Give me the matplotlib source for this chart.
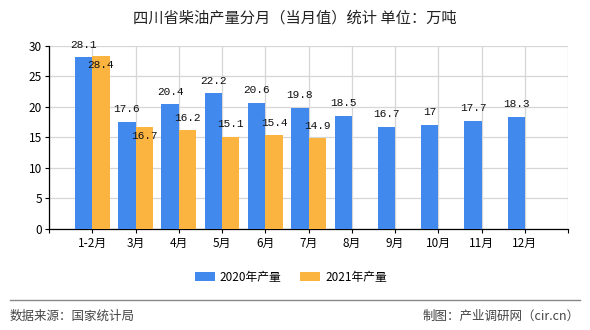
import numpy as np
import matplotlib.pyplot as plt
from matplotlib.lines import Line2D

plt.rcParams['font.family'] = ['Noto Sans CJK SC', 'DejaVu Sans']

months = ['1-2月', '3月', '4月', '5月', '6月', '7月', '8月', '9月', '10月', '11月', '12月']
prod_2020 = [28.1, 17.6, 20.4, 22.2, 20.6, 19.8, 18.5, 16.7, 17, 17.7, 18.3]
prod_2021 = [28.4, 16.7, 16.2, 15.1, 15.4, 14.9]

blue = '#4189ec'
orange = '#fbb440'

fig = plt.figure(figsize=(5.9, 3.3), dpi=100)
ax = fig.add_axes([0.083, 0.306, 0.88, 0.555])

x = np.arange(len(months))
w = 0.4
ax.bar(x - w / 2, prod_2020, width=w, color=blue, label='2020年产量', zorder=3)
x21 = x[:len(prod_2021)]
ax.bar(x21 + w / 2, prod_2021, width=w, color=orange, label='2021年产量', zorder=3)

num_font = dict(family='Liberation Mono', fontsize=8, color='#111111')
for xi, v in zip(x, prod_2020):
    ax.annotate('{:g}'.format(v), (xi - w / 2, v), xytext=(0, 9.3), textcoords='offset points',
                ha='center', va='center', zorder=5, **num_font)
for xi, v, b in zip(x21, prod_2021, prod_2020):
    # label collides with the 2020 one -> drop it under the bar top
    dy = -6.5 if abs(v - b) < 2 else 9
    ax.annotate('{:g}'.format(v), (xi + w / 2, v), xytext=(0, dy), textcoords='offset points',
                ha='center', va='center', zorder=5, **num_font)

ax.set_xlim(-1, len(months))
ax.set_ylim(0, 30)
ax.set_xticks(np.arange(-1, len(months) + 1))
ax.set_xticklabels([''] + months + [''], fontsize=8.5)
ax.set_yticks(np.arange(0, 31, 5))
ax.tick_params(axis='y', labelsize=8.5, length=3, pad=2)
ax.tick_params(axis='x', length=3, pad=3)
ax.grid(True, color='#d6d6d6', linewidth=0.9, zorder=0)
for s in ['top', 'right']:
    ax.spines[s].set_visible(False)
for s in ['left', 'bottom']:
    ax.spines[s].set_color('black')
    ax.spines[s].set_linewidth(0.9)

fig.text(0.5, 1 - 18 / 330, '四川省柴油产量分月（当月值）统计 单位：万吨', ha='center', va='center',
         fontsize=11, color='#222222')

fig.legend(loc='center', bbox_to_anchor=(0.493, 1 - 277 / 330), ncol=2, frameon=False,
           fontsize=8.5, handlelength=1.7, handleheight=0.8, columnspacing=1.6, handletextpad=0.4)

fig.add_artist(Line2D([10 / 590, 580 / 590], [1 - 300 / 330] * 2, color='#888888', linewidth=1))
fig.text(10 / 590, 1 - 316 / 330, '数据来源：国家统计局', ha='left', va='center', fontsize=9, color='#444444')
fig.text(580 / 590, 1 - 316 / 330, '制图：产业调研网（cir.cn）', ha='right', va='center', fontsize=9, color='#444444')

fig.savefig('out.png', dpi=100)
